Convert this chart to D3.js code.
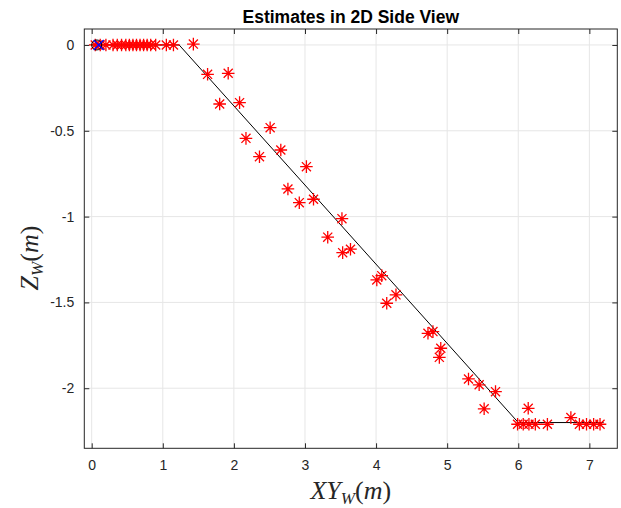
<!DOCTYPE html>
<html><head><meta charset="utf-8">
<script src="https://cdn.jsdelivr.net/npm/d3@7"></script>
<style>body{margin:0;background:#fff}svg{display:block}</style>
</head><body>
<svg id="c" width="621" height="508"></svg>
<script>
const xTicks = [0,1,2,3,4,5,6,7];
const yTicks = [0,-0.5,-1,-1.5,-2];
const yTickLabels = ["0","-0.5","-1","-1.5","-2"];
const pathX = [0, 1.23, 6.0, 7.2];
const pathY = [0, 0, -2.2, -2.2];
const estX = [0.05,0.12,0.2,0.3,0.36,0.42,0.48,0.53,0.58,0.63,0.68,0.73,0.78,0.83,0.9,1.05,1.15,1.43,
  1.63,1.92,1.80,2.08,2.51,2.17,2.66,2.36,3.02,2.76,3.12,2.92,3.52,3.32,3.53,3.64,4.01,4.08,4.28,4.15,
  4.73,4.80,4.91,4.89,5.30,5.45,5.68,5.52,6.14,5.99,6.07,6.15,6.24,6.41,6.74,6.86,6.96,7.06,7.15];
const estY = [0,0,0,0,0,0,0,0,0,0,0,0,0,0,0,0,0,0.005,
  -0.171,-0.165,-0.344,-0.336,-0.482,-0.544,-0.612,-0.651,-0.709,-0.839,-0.899,-0.919,-1.012,-1.12,-1.21,-1.19,-1.369,-1.344,-1.456,-1.505,
  -1.68,-1.67,-1.767,-1.82,-1.946,-1.98,-2.02,-2.12,-2.117,-2.21,-2.21,-2.21,-2.21,-2.21,-2.171,-2.21,-2.21,-2.21,-2.21];
const startX = [0.07];
const startY = [0];

const svg = d3.select("#c");
const L=84.3,R=617.3,T=29,B=448.3;
const x = d3.scaleLinear().domain([-0.104,7.393]).range([L,R]);
const y = d3.scaleLinear().domain([0.093,-2.35]).range([T,B]);

// grid
const g = svg.append("g");
g.selectAll(".gx").data(xTicks).join("line").attr("x1",d=>x(d)).attr("x2",d=>x(d)).attr("y1",T).attr("y2",B).attr("stroke","#e6e6e6").attr("stroke-width",1);
g.selectAll(".gy").data(yTicks).join("line").attr("y1",d=>y(d)).attr("y2",d=>y(d)).attr("x1",L).attr("x2",R).attr("stroke","#e6e6e6").attr("stroke-width",1);

// axes with inward ticks
const ax = svg.append("g").attr("transform",`translate(0,${B})`).call(d3.axisBottom(x).tickValues(xTicks).tickSize(-5).tickPadding(12).tickFormat(d3.format("d")));
const axT = svg.append("g").attr("transform",`translate(0,${T})`).call(d3.axisTop(x).tickValues(xTicks).tickSize(-5).tickFormat(""));
const ay = svg.append("g").attr("transform",`translate(${L},0)`).call(d3.axisLeft(y).tickValues(yTicks).tickSize(-5).tickPadding(10).tickFormat((d,i)=>yTickLabels[i]));
const ayR = svg.append("g").attr("transform",`translate(${R},0)`).call(d3.axisRight(y).tickValues(yTicks).tickSize(-5).tickFormat(""));
[ax,axT,ay,ayR].forEach(a=>{a.select(".domain").remove();a.selectAll("line").attr("stroke","#262626");
  a.selectAll("text").attr("fill","#262626").style("font-family","Liberation Sans, Arial, sans-serif").style("font-size","14px");});
svg.append("rect").attr("x",L).attr("y",T).attr("width",R-L).attr("height",B-T).attr("fill","none").attr("stroke","#262626").attr("stroke-width",1);

// ground truth line
svg.append("path").datum(d3.range(pathX.length)).attr("d",d3.line().x(i=>x(pathX[i])).y(i=>y(pathY[i])))
  .attr("fill","none").attr("stroke","#000").attr("stroke-width",1);

// asterisks
const s=6.3;
const star = `M${-s},0L${s},0M0,${-s}L0,${s}M${-s*0.72},${-s*0.72}L${s*0.72},${s*0.72}M${-s*0.72},${s*0.72}L${s*0.72},${-s*0.72}`;
svg.append("g").selectAll("path").data(d3.range(estX.length)).join("path")
  .attr("transform",i=>`translate(${x(estX[i])},${y(estY[i])})`).attr("d",star)
  .attr("stroke","#ff0000").attr("stroke-width",1.3).attr("fill","none");

// start marker: black circle + blue x
svg.append("g").selectAll("circle").data(d3.range(startX.length)).join("circle")
  .attr("cx",i=>x(startX[i])).attr("cy",i=>y(startY[i])).attr("r",5).attr("fill","none").attr("stroke","#000").attr("stroke-width",1);
svg.append("g").selectAll("path").data(d3.range(startX.length)).join("path")
  .attr("transform",i=>`translate(${x(startX[i])+2},${y(startY[i])})`).attr("d","M-5,-5L5,5M-5,5L5,-5")
  .attr("stroke","#0000ff").attr("stroke-width",1.2);

// title
svg.append("text").attr("x",(L+R)/2).attr("y",23).attr("text-anchor","middle")
  .style("font-family","Liberation Sans, Arial, sans-serif").style("font-weight","bold").style("font-size","17.5px").attr("fill","#000")
  .text("Estimates in 2D Side View");

// x label
const xl = svg.append("text").attr("x",(L+R)/2).attr("y",499).attr("text-anchor","middle")
  .style("font-family","Liberation Serif, DejaVu Serif, serif").style("font-size","26px").attr("fill","#262626");
xl.append("tspan").style("font-style","italic").text("XY");
xl.append("tspan").style("font-style","italic").style("font-size","17px").attr("dy",5).text("W");
xl.append("tspan").attr("dy",-5).text("(");
xl.append("tspan").style("font-style","italic").text("m");
xl.append("tspan").text(")");

// y label
const yl = svg.append("text").attr("transform","translate(38,258) rotate(-90)").attr("text-anchor","middle")
  .style("font-family","Liberation Serif, DejaVu Serif, serif").style("font-size","26px").attr("fill","#262626");
yl.append("tspan").style("font-style","italic").text("Z");
yl.append("tspan").style("font-style","italic").style("font-size","17px").attr("dy",5).text("W");
yl.append("tspan").attr("dy",-5).text("(");
yl.append("tspan").style("font-style","italic").text("m");
yl.append("tspan").text(")");
</script>
</body></html>
